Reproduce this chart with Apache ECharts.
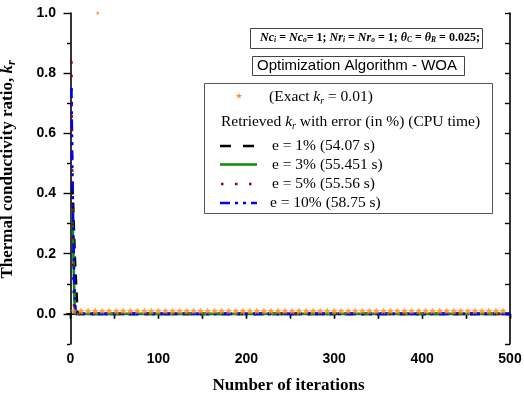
<!DOCTYPE html>
<html><head><meta charset="utf-8">
<script src="https://cdn.jsdelivr.net/npm/echarts@6/dist/echarts.min.js"></script>
<style>html,body{margin:0;padding:0;background:#fff}#c{width:524px;height:396px}</style>
</head><body><div id="c"></div>
<script>
// ---- data ----
const xTickLabels = [0, 100, 200, 300, 400, 500];
const xTickValues = [0, 50, 100, 150, 200, 250, 300, 350, 400, 450, 500];
const yTickLabels = [0.0, 0.2, 0.4, 0.6, 0.8, 1.0];
const yMinorTicks = [-0.1, 0.1, 0.3, 0.5, 0.7, 0.9];
const yRightTicks = [-0.1, 0.0, 0.1, 0.2, 0.3, 0.4, 0.5, 0.6, 0.7, 0.8, 0.9, 1.0];

const exactKr = 0.01;
const exactIter = [4,12,20,28,36,44,52,60,68,76,84,92,100,108,116,124,132,140,148,156,164,172,180,188,196,204,212,220,228,236,244,252,260,268,276,284,292,300,308,316,324,332,340,348,356,364,372,380,388,396,404,412,420,428,436,444,452,460,468,476,484,492];
const outlierIter = [31];
const outlierVal = [1.0];

const e1Iter = [2, 3, 4, 5, 6, 7, 8, 500];
const e1Val  = [0.43, 0.36, 0.27, 0.18, 0.12, 0.06, 0.0, 0.0];
const e3Iter = [2, 3, 4, 5, 500];
const e3Val  = [0.35, 0.24, 0.10, 0.0, 0.0];
const e5Iter = [1, 2, 3, 4, 5, 500];
const e5Val  = [0.84, 0.45, 0.14, 0.03, 0.0, 0.0];
const e10Iter = [1, 2, 3, 4, 5, 6, 500];
const e10Val  = [0.75, 0.50, 0.30, 0.15, 0.05, 0.0, 0.0];

const seriesNames = ['e = 1% (54.07 s)', 'e = 3% (55.451 s)', 'e = 5% (55.56 s)', 'e = 10% (58.75 s)'];

// ---- build ----
const zip = (a, b) => a.map((v, i) => [v, b[i]]);
const STAR = 'path://M0,-10L2.94,-4.05L9.51,-3.09L4.76,1.55L5.88,8.09L0,5L-5.88,8.09L-4.76,1.55L-9.51,-3.09L-2.94,-4.05Z';
const SERIF = 'Liberation Serif';
const SANS = 'Liberation Sans';
const cBlack = '#000000', cGreen = '#0b8a0b', cRed = '#8e0000', cBlue = '#0000ff', cOrange = '#ff8c1a';
const dashBlack = [10, 8], dashRed = [2.5, 11], dashBlue = [10, 5, 3, 5, 3, 5];
const LEG_FS = 15.5;

function starPoints(cx, cy, r) {
  const pts = [];
  for (let i = 0; i < 10; i++) {
    const a = -Math.PI / 2 + i * Math.PI / 5;
    const rr = i % 2 === 0 ? r : r * 0.42;
    pts.push([cx + rr * Math.cos(a), cy + rr * Math.sin(a)]);
  }
  return pts;
}

const axisLine = {show: true, lineStyle: {color: '#000', width: 1.6}};

const chart = echarts.init(document.getElementById('c'), null, {renderer: 'canvas'});
const subRich = {
  k: {fontFamily: SERIF, fontSize: 17, fontWeight: 'bold', fontStyle: 'italic', color: '#000', lineHeight: 20},
  s: {fontFamily: SERIF, fontSize: 12, fontWeight: 'bold', fontStyle: 'italic', color: '#000', verticalAlign: 'bottom', lineHeight: 10}
};
const legRich = {
  n: {fontFamily: SERIF, fontSize: LEG_FS, fill: '#000', lineHeight: 18},
  i: {fontFamily: SERIF, fontSize: LEG_FS, fontStyle: 'italic', fill: '#000', lineHeight: 18},
  s: {fontFamily: SERIF, fontSize: 10, fontStyle: 'italic', fill: '#000', verticalAlign: 'bottom', lineHeight: 9}
};

const starData = zip(exactIter, exactIter.map(() => exactKr))
  .concat(zip(outlierIter, outlierVal).map(p => ({value: p, symbolSize: 4})));

const option = {
  animation: false,
  backgroundColor: '#fff',
  grid: {left: 67, right: 14, top: 13, bottom: 52, containLabel: false, outerBoundsMode: 'none'},
  xAxis: [
    {type: 'value', min: -4, max: 500, position: 'bottom',
     axisLine: axisLine,
     axisTick: {show: true, customValues: xTickValues, length: 4, lineStyle: {color: '#000', width: 1.4}},
     axisLabel: {customValues: xTickLabels, fontFamily: SANS, fontWeight: 'bold', fontSize: 14, color: '#000', margin: 8},
     splitLine: {show: false},
     name: 'Number of iterations', nameLocation: 'middle', nameGap: 33,
     nameTextStyle: {fontFamily: SERIF, fontWeight: 'bold', fontSize: 17, color: '#000'}},
    {type: 'value', min: -4, max: 500, position: 'top',
     axisLine: axisLine,
     axisTick: {show: true, inside: true, customValues: xTickValues, length: 5, lineStyle: {color: '#000', width: 1.4}},
     axisLabel: {show: false}, splitLine: {show: false}}
  ],
  yAxis: [
    {type: 'value', min: -0.1, max: 1.0, position: 'left',
     axisLine: axisLine,
     axisTick: {show: true, customValues: yTickLabels, length: 7, lineStyle: {color: '#000', width: 1.4}},
     axisLabel: {customValues: yTickLabels, formatter: v => v.toFixed(1), fontFamily: SANS, fontWeight: 'bold', fontSize: 14, color: '#000', margin: 11},
     splitLine: {show: false},
     name: 'Thermal conductivity ratio, {k|k}{s|r}', nameLocation: 'middle', nameGap: 49,
     nameTextStyle: {fontFamily: SERIF, fontWeight: 'bold', fontSize: 17, color: '#000', lineHeight: 20, padding: [0, 0, 0, 18], rich: subRich}},
    {type: 'value', min: -0.1, max: 1.0, position: 'left',
     axisLine: {show: false},
     axisTick: {show: true, customValues: yMinorTicks, length: 3.5, lineStyle: {color: '#000', width: 1.4}},
     axisLabel: {show: false}, splitLine: {show: false}},
    {type: 'value', min: -0.1, max: 1.0, position: 'right',
     axisLine: axisLine,
     axisTick: {show: true, inside: true, customValues: yRightTicks, length: 5, lineStyle: {color: '#000', width: 1.4}},
     axisLabel: {show: false}, splitLine: {show: false}}
  ],
  series: [
    {name: seriesNames[0], type: 'line', data: zip(e1Iter, e1Val), showSymbol: false, z: 2,
     lineStyle: {color: cBlack, width: 2.6, type: dashBlack}},
    {name: seriesNames[1], type: 'line', data: zip(e3Iter, e3Val), showSymbol: false, z: 3,
     lineStyle: {color: cGreen, width: 2.6, type: 'solid'}},
    {name: seriesNames[2], type: 'line', data: zip(e5Iter, e5Val), showSymbol: false, z: 4,
     lineStyle: {color: cRed, width: 2.6, type: dashRed}},
    {name: seriesNames[3], type: 'line', data: zip(e10Iter, e10Val), showSymbol: false, z: 5,
     lineStyle: {color: cBlue, width: 2.6, type: dashBlue}},
    {name: 'Exact', type: 'scatter', z: 6, symbol: STAR, symbolSize: 7,
     itemStyle: {color: cOrange}, data: starData}
  ],
  graphic: [
    {type: 'rect', shape: {x: 250.5, y: 28.5, width: 232, height: 20}, style: {fill: '#fff', stroke: '#444', lineWidth: 1}, z: 10},
    {type: 'text', x: 370, y: 37.5, z: 11, style: {
      text: '{b|Nc}{s|i}{n| = }{b|Nc}{s|o}{n|= 1; }{b|Nr}{s|i}{n| = }{b|Nr}{s|o}{n| = 1; }{b|θ}{s|C}{n| = }{b|θ}{s|R}{n| = 0.025;}',
      align: 'center', verticalAlign: 'middle',
      rich: {
        b: {fontFamily: SERIF, fontSize: 12, fontWeight: 'bold', fontStyle: 'italic', fill: '#000', lineHeight: 14},
        n: {fontFamily: SERIF, fontSize: 12, fontWeight: 'bold', fill: '#000', lineHeight: 14},
        s: {fontFamily: SERIF, fontSize: 7.5, fontWeight: 'bold', fontStyle: 'italic', fill: '#000', verticalAlign: 'bottom', lineHeight: 3}
      }}},
    {type: 'rect', shape: {x: 252.5, y: 56.5, width: 212, height: 19}, style: {fill: '#fff', stroke: '#444', lineWidth: 1}, z: 10},
    {type: 'text', x: 357, y: 66, z: 11, style: {text: 'Optimization Algorithm - WOA', fontFamily: SANS, fontSize: 15, fill: '#000', align: 'center', verticalAlign: 'middle'}},
    {type: 'rect', shape: {x: 204.5, y: 83.5, width: 288, height: 130}, style: {fill: '#fff', stroke: '#555', lineWidth: 1}, z: 10},
    {type: 'polygon', z: 11, shape: {points: starPoints(239, 96, 3.2)}, style: {fill: cOrange}},
    {type: 'text', x: 269, y: 97, z: 11, style: {text: '{n|(Exact }{i|k}{s|r}{n| = 0.01)}', verticalAlign: 'middle', rich: legRich}},
    {type: 'text', x: 221, y: 122, z: 11, style: {text: '{n|Retrieved }{i|k}{s|r}{n| with error (in %) (CPU time)}', verticalAlign: 'middle', rich: legRich}},
    {type: 'line', z: 11, shape: {x1: 220, y1: 146, x2: 257, y2: 146}, style: {stroke: cBlack, lineWidth: 2.6, lineDash: [11, 12]}},
    {type: 'line', z: 11, shape: {x1: 220, y1: 164.5, x2: 257, y2: 164.5}, style: {stroke: cGreen, lineWidth: 2.6}},
    {type: 'line', z: 11, shape: {x1: 221, y1: 184, x2: 257, y2: 184}, style: {stroke: cRed, lineWidth: 2.6, lineDash: [2.5, 11.5]}},
    {type: 'line', z: 11, shape: {x1: 220, y1: 203, x2: 257, y2: 203}, style: {stroke: cBlue, lineWidth: 2.6, lineDash: [10, 5, 3, 5, 3, 5]}},
    {type: 'text', x: 272, y: 146, z: 11, style: {text: seriesNames[0], fontFamily: SERIF, fontSize: LEG_FS, fill: '#000', verticalAlign: 'middle'}},
    {type: 'text', x: 272, y: 165, z: 11, style: {text: seriesNames[1], fontFamily: SERIF, fontSize: LEG_FS, fill: '#000', verticalAlign: 'middle'}},
    {type: 'text', x: 272, y: 184, z: 11, style: {text: seriesNames[2], fontFamily: SERIF, fontSize: LEG_FS, fill: '#000', verticalAlign: 'middle'}},
    {type: 'text', x: 270, y: 203, z: 11, style: {text: seriesNames[3], fontFamily: SERIF, fontSize: LEG_FS, fill: '#000', verticalAlign: 'middle'}}
  ]
};
chart.setOption(option);
</script></body></html>
